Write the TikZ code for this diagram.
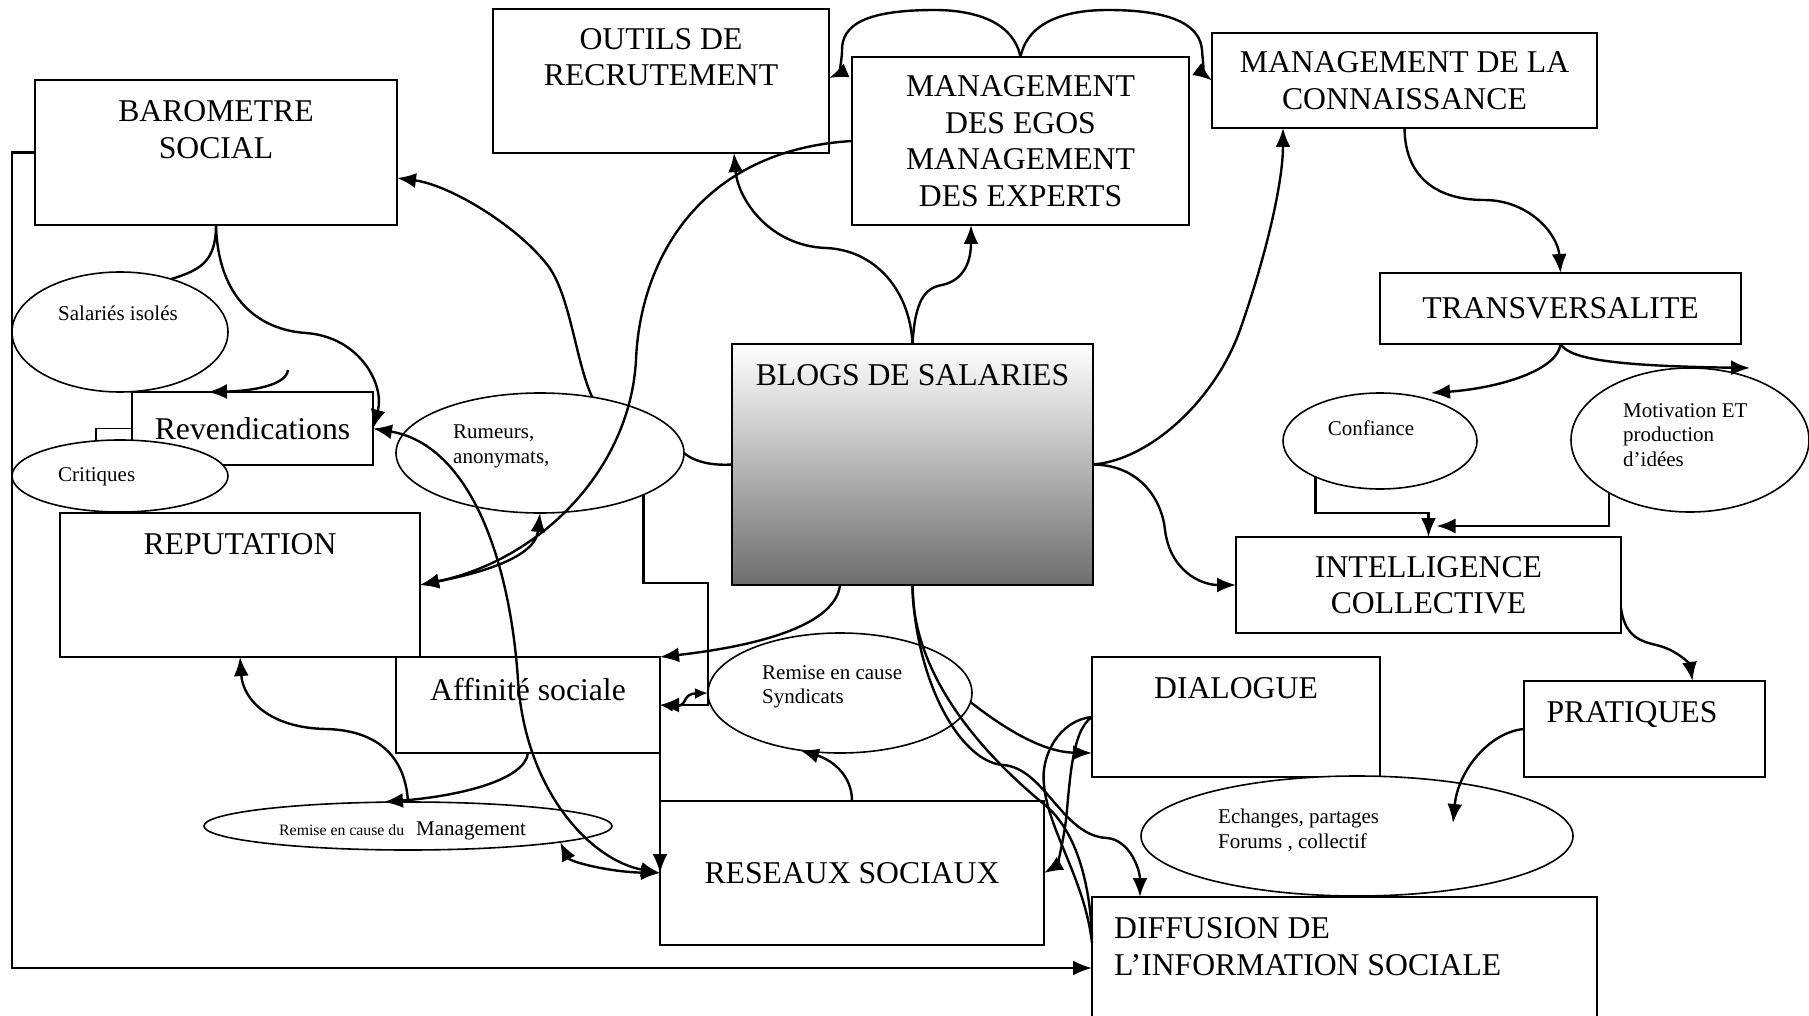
\documentclass[tikz,border=0pt]{standalone}
\usepackage{fontspec}
\setmainfont{Liberation Serif}
\usetikzlibrary{arrows.meta,shapes.geometric,positioning,calc}

\newcommand{\bigfont}{\fontsize{31.7}{36.5}\selectfont}
\newcommand{\smallfont}{\fontsize{21}{24.5}\selectfont}
\newcommand{\tinyfont}{\fontsize{15.8}{18}\selectfont}

\tikzset{
	box/.style={draw, line width=2pt, rectangle, anchor=north west, inner sep=0pt, outer sep=0pt, font=\bigfont, align=center},
	title/.style={inner sep=0pt, font=\bigfont, align=center},
	bubble/.style={draw, line width=1.6pt, ellipse, fill=white, inner sep=0pt, outer sep=0pt},
	note/.style={inner sep=0pt, font=\smallfont, align=left},
	link/.style={line width=2.4pt},
	arr/.style={link, -{Latex[length=19pt,width=15pt]}},
	dbl/.style={link, {Latex[length=19pt,width=15pt]}-{Latex[length=19pt,width=15pt]}},
}

\begin{document}
\begin{tikzpicture}[x=1pt, y=-1pt]
		\fill[white] (0,0) rectangle (1809,1016);
		\useasboundingbox (0,0) rectangle (1809,1016);

		%%% Boxes
		\node[box, minimum width=362pt, minimum height=145pt] (baro) at (35,80) {};
		\node[title, below=20.5pt of baro.north] (barotxt) {BAROMETRE\\SOCIAL};

		\node[box, minimum width=336pt, minimum height=144pt] (outils) at (493,9) {};
		\node[title, below=19pt of outils.north] (outilstxt) {OUTILS DE\\RECRUTEMENT};

		\node[box, minimum width=337pt, minimum height=168pt] (egos) at (852,57) {MANAGEMENT\\DES EGOS\\MANAGEMENT\\DES EXPERTS};

		\node[box, minimum width=385pt, minimum height=95pt] (conn) at (1212,33) {MANAGEMENT DE LA\\CONNAISSANCE};

		\node[box, minimum width=361pt, minimum height=71pt] (trans) at (1380,273) {TRANSVERSALITE};

		\node[box, minimum width=361pt, minimum height=241pt, top color=white, bottom color=black!57] (blogs) at (732,344) {};
		\node[title, below=20.5pt of blogs.north] (blogstxt) {BLOGS DE SALARIES};

		\node[box, minimum width=241pt, minimum height=73pt] (reven) at (132,392) {Revendications};

		\node[box, minimum width=360pt, minimum height=144pt] (reput) at (60,513) {};
		\node[title, below=20.5pt of reput.north] (reputtxt) {REPUTATION};

		\node[box, minimum width=264pt, minimum height=96pt] (affin) at (396,657) {};
		\node[title, below=20.5pt of affin.north] (affintxt) {Affinité sociale};

		\node[box, minimum width=384pt, minimum height=144pt] (reseaux) at (660,801) {RESEAUX SOCIAUX};

		\node[box, minimum width=288pt, minimum height=120pt] (dial) at (1092,657) {};
		\node[title, below=20.5pt of dial.north] (dialtxt) {DIALOGUE};

		\node[box, minimum width=241pt, minimum height=96pt] (prat) at (1524,681) {};
		\node[title, below=20.5pt of prat.north, xshift=-12.5pt] (prattxt) {PRATIQUES};

		\node[box, minimum width=385pt, minimum height=96pt] (intel) at (1236,537) {INTELLIGENCE\\COLLECTIVE};

		\node[box, minimum width=505pt, minimum height=142pt] (diff) at (1092,897) {};
		\node[title, anchor=north west, align=left] (difftxt) at ($(diff.north west)+(22,20.5)$) {DIFFUSION DE\\L’INFORMATION SOCIALE};

		%%% Ellipses
		\node[bubble, minimum width=216pt, minimum height=120pt] (sal) at (120,332) {};
		\node[note, anchor=base west] (saltxt) at (58,320) {Salariés isolés};

		\node[bubble, minimum width=216pt, minimum height=72pt] (crit) at (120,476) {};
		\node[note, anchor=base west] (crittxt) at (58,481) {Critiques};

		\node[bubble, minimum width=288pt, minimum height=120pt] (rum) at (540,453) {};
		\node[note, anchor=north west] (rumtxt) at (453,425) {Rumeurs,\\anonymats,};

		\node[bubble, minimum width=264pt, minimum height=120pt] (synd) at (840,693) {};
		\node[note, anchor=north west] (syndtxt) at (762,665) {Remise en cause\\Syndicats};

		\node[bubble, minimum width=408pt, minimum height=48pt] (mgmt) at (408,826) {};
		\node[anchor=base west, inner sep=0pt, font=\tinyfont] (mgmttxt) at (279,835) {Remise en cause du};
		\node[note, anchor=base west] (mgmtword) at (416,835) {Management};

		\node[bubble, minimum width=194pt, minimum height=96pt] (conf) at (1380,441) {};
		\node[note, anchor=base] (conftxt) at (1371,435) {Confiance};

		\node[bubble, minimum width=238pt, minimum height=144pt] (motiv) at (1690,440) {};
		\node[note, anchor=north west] (motivtxt) at (1623,403) {Motivation ET\\production\\d’idées};

		\node[bubble, minimum width=432pt, minimum height=120pt] (echan) at (1357,836) {};
		\node[note, anchor=north west] (echantxt) at (1218,809) {Echanges, partages\\Forums , collectif};

		\coordinate (revtail) at (288,370);

		%%% Links from the blogs
		\draw[arr] (blogs.north) .. controls (910,290) and (875,250) .. (826,248) .. controls (770,246) and (738,200) .. ([xshift=73pt]outils.south);
		\draw[arr] (blogs.north) .. controls (915,300) and (925,288) .. (942,285) .. controls (965,280) and (971,260) .. ([xshift=-49.5pt]egos.south);
		\draw[link] (blogs.west) .. controls (708,466) and (692,460) .. (rum.east);
		\draw[arr] ([xshift=-72.5pt]blogs.south) .. controls (835,630) and (740,648) .. (affin.north east);
		\draw[arr] (blogs.south) .. controls (915,680) and (960,762) .. (1003,765) .. controls (1045,768) and (1062,836) .. (1107,838) .. controls (1130,840) and (1140,870) .. ([xshift=-204.5pt]diff.north);
		\draw[link] (blogs.south) .. controls (912,680) and (990,760) .. (1045,805) .. controls (1075,830) and (1090,880) .. ([yshift=30pt]diff.west);
		\draw[arr] (blogs.east) .. controls (1150,460) and (1215,400) .. (1240,330) .. controls (1268,250) and (1283,180) .. ([xshift=-121.5pt]conn.south);
		\draw[arr] (blogs.east) .. controls (1140,465) and (1162,500) .. (1165,530) .. controls (1170,570) and (1200,585) .. (intel.west);

		%%% Top arcs
		\draw[arr] (egos.north) .. controls (1012,15) and (960,10) .. (935,10) .. controls (865,10) and (842,25) .. (842,50) .. controls (842,66) and (836,75) .. ([yshift=3pt]outils.east);
		\draw[arr] (egos.north) .. controls (1029,15) and (1080,10) .. (1108,10) .. controls (1172,10) and (1200,25) .. (1202,50) .. controls (1203,66) and (1206,76) .. (conn.west);
		\draw[arr] (egos.west) .. controls (700,150) and (640,260) .. (636,360) .. controls (630,470) and (540,560) .. (reput.east);

		%%% Left side
		\draw[arr] (rum.47) .. controls (575,360) and (570,290) .. (545,262) .. controls (515,225) and (450,185) .. ([yshift=-25.5pt]baro.east);
		\draw[link] (baro.south) .. controls (216,262) and (200,270) .. (sal.46);
		\draw[arr] (baro.south) .. controls (218,300) and (260,330) .. (306,333) .. controls (360,337) and (385,385) .. (reven.east);
		\draw[dbl] (reven.east) .. controls (470,445) and (510,560) .. (518,680) .. controls (525,790) and (590,860) .. (reseaux.west);
		\draw[arr] (revtail) .. controls (286,386) and (250,391) .. ([xshift=-44.5pt]reven.north);
		\draw[line width=1.8pt] (reven.west) -| ([xshift=-24pt]crit.north);
		\draw[arr] (baro.west) -- ++(-23,0) |- (diff.west);
		\draw[dbl] (reput.east) .. controls (470,575) and (535,560) .. (rum.south);

		%%% Bottom left
		\draw[arr] (mgmt.north) .. controls (405,750) and (370,730) .. (326,729) .. controls (270,728) and (243,700) .. (reput.south);
		\draw[arr] (affin.south) .. controls (525,780) and (460,796) .. ([xshift=-24pt]mgmt.north);
		\draw[dbl] (mgmt.-6.4) .. controls (570,862) and (610,872) .. (reseaux.west);
		\draw[arr] (rum.-22.2) |- (708,583) |- (affin.east);
		\draw[arr] (affin.east) -- (reseaux.west);
		\draw[link, {Latex[length=13pt,width=11pt]}-{Latex[length=13pt,width=11pt]}] (affin.east) .. controls (690,708) and (680,694) .. (synd.west);
		\draw[arr] (reseaux.north) .. controls (852,775) and (832,760) .. (synd.-125.7);
		\draw[arr] (synd.-4) .. controls (1000,725) and (1040,752) .. ([yshift=-36pt]dial.west);
		\draw[link] (dial.west) .. controls (1060,720) and (1040,755) .. (1044,785) .. controls (1048,830) and (1085,880) .. ([yshift=25pt]diff.west);
		\draw[arr] (dial.west) .. controls (1072,730) and (1070,780) .. (1066,820) .. controls (1062,850) and (1056,866) .. (reseaux.east);

		%%% Right side
		\draw[arr] (conn.south) .. controls (1405,180) and (1440,200) .. (1484,200) .. controls (1530,200) and (1558,235) .. (trans.north);
		\draw[arr] (trans.south) .. controls (1558,370) and (1500,388) .. ([xshift=51pt]conf.north);
		\draw[arr] (trans.south) .. controls (1570,360) and (1620,366) .. ([xshift=60pt]motiv.north);
		\draw[arr] (conf.-151.7) -- ++(0,36) -| (intel.north);
		\draw[arr] (motiv.-147.1) |- ([xshift=8pt,yshift=11pt]intel.north);
		\draw[arr] ([yshift=-23pt]intel.east) .. controls (1625,640) and (1645,642) .. (1660,646) .. controls (1680,652) and (1690,665) .. ([xshift=48pt]prat.north);
		\draw[arr] (prat.west) .. controls (1490,732) and (1458,770) .. ([xshift=96pt,yshift=13pt]echan.center);
\end{tikzpicture}
\end{document}
